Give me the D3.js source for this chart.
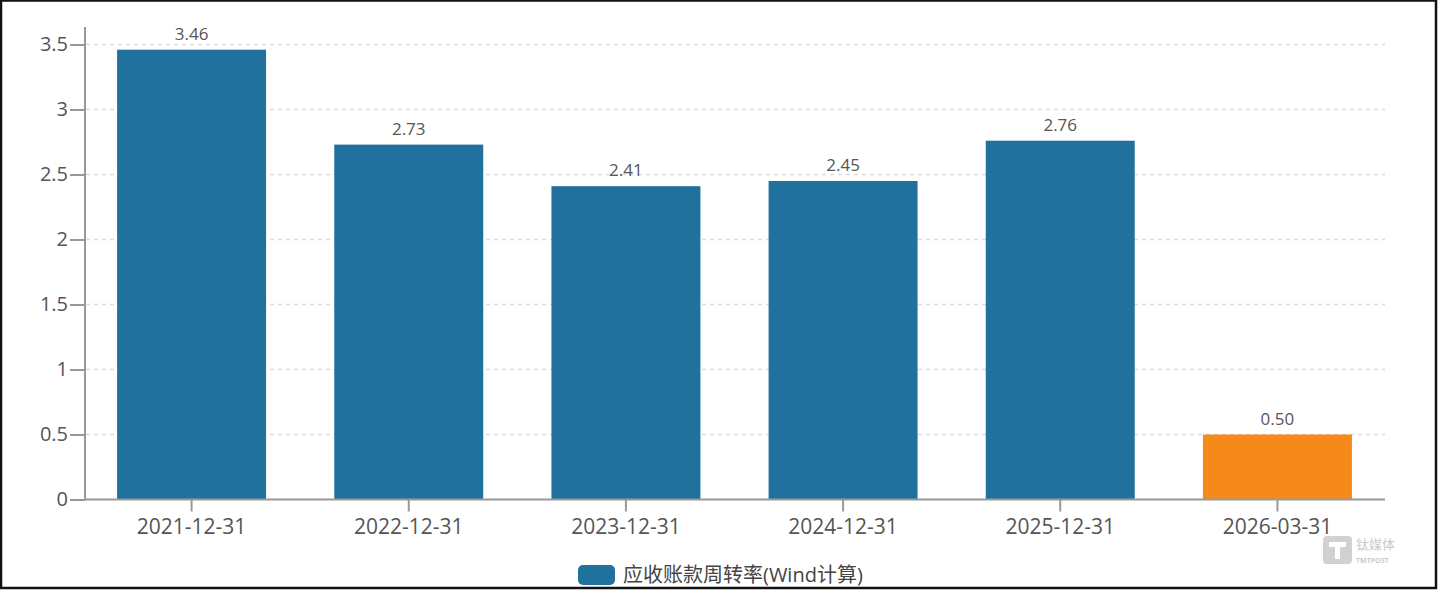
<!DOCTYPE html>
<html>
<head>
<meta charset="utf-8">
<script src="https://cdn.jsdelivr.net/npm/d3@7/dist/d3.min.js"></script>
<style>
  html, body { margin: 0; padding: 0; background: #fff; }
  svg { display: block; }
  text { font-family: "Open Sans", "Noto Sans CJK SC", sans-serif; }
</style>
</head>
<body>
<svg id="chart" width="1438" height="590"></svg>
<script>
const categories = ["2021-12-31", "2022-12-31", "2023-12-31", "2024-12-31", "2025-12-31", "2026-03-31"];
const values = [3.46, 2.73, 2.41, 2.45, 2.76, 0.50];
const labels = ["3.46", "2.73", "2.41", "2.45", "2.76", "0.50"];
const barColors = ["#21719f", "#21719f", "#21719f", "#21719f", "#21719f", "#f58a1b"];
const yTicks = [0, 0.5, 1, 1.5, 2, 2.5, 3, 3.5];
const yTickLabels = ["0", "0.5", "1", "1.5", "2", "2.5", "3", "3.5"];
const legendLabel = "应收账款周转率(Wind计算)";

const svg = d3.select("#chart");
const W = 1438, H = 590;
const x0 = 83, x1 = 1386, yBase = 499.5, yTop = 44.5;

const x = d3.scaleBand().domain(categories).range([x0, x1]).paddingInner(0.314).paddingOuter(0.157);
const y = d3.scaleLinear().domain([0, 3.5]).range([yBase, yTop]);

// grid
svg.append("g").selectAll("line").data(yTicks.filter(d => d > 0)).join("line")
  .attr("x1", 86).attr("x2", 1385)
  .attr("y1", d => y(d)).attr("y2", d => y(d))
  .attr("stroke", "#dcdcdc").attr("stroke-width", 1.5).attr("stroke-dasharray", "4,4");

// bars
svg.append("g").selectAll("rect").data(categories).join("rect")
  .attr("x", d => x(d)).attr("width", x.bandwidth())
  .attr("y", (d, i) => y(values[i])).attr("height", (d, i) => yBase - y(values[i]))
  .attr("fill", (d, i) => barColors[i]);

// value labels
svg.append("g").selectAll("text").data(categories).join("text")
  .attr("x", d => x(d) + x.bandwidth() / 2)
  .attr("y", (d, i) => y(values[i]) - 10)
  .attr("text-anchor", "middle").attr("font-size", 17).attr("fill", "#555")
  .text((d, i) => labels[i]);

// y axis
const yAxis = d3.axisLeft(y).tickValues(yTicks).tickFormat((d, i) => yTickLabels[i]).tickSize(15).tickPadding(2);
const gy = svg.append("g").attr("transform", "translate(85,0)").call(yAxis);
gy.select(".domain").remove();
gy.append("line").attr("x1", 0).attr("x2", 0).attr("y1", 27).attr("y2", yBase).attr("stroke", "#999").attr("stroke-width", 2);
gy.selectAll(".tick line").attr("stroke", "#999").attr("stroke-width", 2);
gy.selectAll(".tick text").attr("font-size", 20).attr("fill", "#555").attr("font-family", "'Open Sans', sans-serif");

// x axis
const xAxis = d3.axisBottom(x).tickSize(12).tickPadding(8);
const gx = svg.append("g").attr("transform", `translate(0,${yBase})`).call(xAxis);
gx.select(".domain").remove();
gx.append("line").attr("x1", 85).attr("x2", 1385).attr("y1", 0).attr("y2", 0).attr("stroke", "#999").attr("stroke-width", 2);
gx.selectAll(".tick line").attr("stroke", "#999").attr("stroke-width", 2);
gx.selectAll(".tick text").attr("font-size", 21).attr("fill", "#555").attr("font-family", "'Open Sans', sans-serif");

// legend
const lg = svg.append("g");
lg.append("rect").attr("x", 578).attr("y", 565).attr("width", 37).attr("height", 20).attr("rx", 5).attr("fill", "#21719f");
lg.append("text").attr("x", 623).attr("y", 582).attr("font-size", 20).attr("fill", "#444").text(legendLabel);

// watermark
const wm = svg.append("g").attr("opacity", 0.85);
wm.append("rect").attr("x", 1323).attr("y", 536).attr("width", 29).attr("height", 28).attr("rx", 4).attr("fill", "#c9c9c9");
wm.append("path").attr("d", "M1329,542 H1346 V547 H1340 V559 H1335 V547 H1329 Z").attr("fill", "#fff");
wm.append("text").attr("x", 1356).attr("y", 549).attr("font-size", 13).attr("fill", "#c2c2c2").attr("font-family", "'Noto Sans CJK SC', sans-serif").text("钛媒体");
wm.append("text").attr("x", 1356).attr("y", 563).attr("font-size", 7).attr("fill", "#c2c2c2").attr("font-weight", "bold").text("TMTPOST");

// border
svg.append("rect").attr("x", 1).attr("y", 0.5).attr("width", W - 3).attr("height", H - 2.5)
  .attr("fill", "none").attr("stroke", "#111").attr("stroke-width", 2.5);
</script>
</body>
</html>
